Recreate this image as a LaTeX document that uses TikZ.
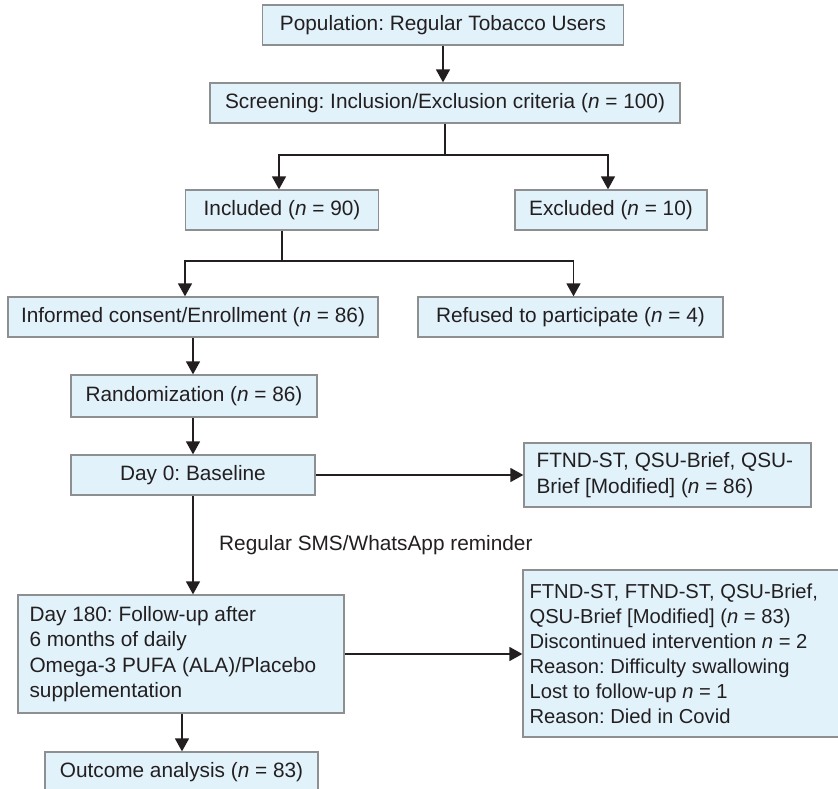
\documentclass[tikz,border=0pt]{standalone}
\usepackage{fontspec}
\setmainfont{Liberation Sans}
\usetikzlibrary{arrows.meta}
\definecolor{boxfill}{HTML}{E1F2FB}
\definecolor{boxline}{HTML}{8E8F90}
\definecolor{ink}{HTML}{231F20}
\newcommand{\nn}{\textit{n}}
\frenchspacing
\begin{document}
\begin{tikzpicture}[x=1pt,y=-1pt,
 box/.style={draw=boxline, line width=1.3pt, fill=boxfill, inner sep=0pt, font=\fontsize{20.8}{25.5}\selectfont, text=ink},
 txt/.style={font=\fontsize{20.8}{25.5}\selectfont, text=ink, inner sep=0pt, align=left},
 arr/.style={draw=ink, line width=1.6pt, -{Triangle[width=14pt,length=13pt]}},
 ln/.style={draw=ink, line width=1.6pt}]
\useasboundingbox (0,0) rectangle (838,789);
\clip (0,0) rectangle (838,789);
\fill[white] (0,0) rectangle (838,789);

\node[box, minimum width=361pt, minimum height=40pt] (pop) at (443,25) {Population: Regular Tobacco Users};
\node[box, minimum width=470pt, minimum height=40pt] (scr) at (445,103) {Screening: Inclusion/Exclusion criteria (\nn{} = 100)};
\node[box, minimum width=193pt, minimum height=40pt] (inc) at (282,210) {Included (\nn{} = 90)};
\node[box, minimum width=192pt, minimum height=40pt] (exc) at (611,210) {Excluded (\nn{} = 10)};
\node[box, minimum width=370pt, minimum height=40pt] (inf) at (193,317) {Informed consent/Enrollment (\nn{} = 86)};
\node[box, minimum width=305pt, minimum height=40pt] (ref) at (570.5,317) {Refused to participate (\nn{} = 4)};
\node[box, minimum width=246pt, minimum height=42pt] (rand) at (194,396) {Randomization (\nn{} = 86)};
\node[box, minimum width=244pt, minimum height=40pt] (d0) at (193,475) {Day 0: Baseline};
\node[box, minimum width=287pt, minimum height=64pt] (f1) at (667.5,475) {};
\node[txt, anchor=west] (f1t) at ([xshift=13pt]f1.west) {FTND-ST, QSU-Brief, QSU-\\Brief [Modified] (\nn{} = 86)};
\node[box, minimum width=326pt, minimum height=118pt] (d180) at (181,654) {};
\node[txt, anchor=west] (d180t) at ([xshift=12pt]d180.west) {Day 180: Follow-up after\\6 months of daily\\Omega-3 PUFA (ALA)/Placebo\\supplementation};
\node[box, minimum width=322pt, minimum height=167pt] (f2) at (684,653.5) {};
\node[txt, anchor=west, font=\fontsize{20.2}{25}\selectfont] (f2t) at ([xshift=7pt]f2.west) {FTND-ST, FTND-ST, QSU-Brief,\\QSU-Brief [Modified] (\nn{} = 83)\\Discontinued intervention \nn{} = 2\\Reason: Difficulty swallowing\\Lost to follow-up \nn{} = 1\\Reason: Died in Covid};
\node[box, minimum width=273pt, minimum height=40pt] (out) at (181.5,772) {Outcome analysis (\nn{} = 83)};
\node[txt, anchor=west] (rem) at (219,545) {Regular SMS/WhatsApp reminder};

\coordinate (j1) at (445,155);
\coordinate (j2) at (282,261);
\draw[arr] (pop.south) -- (pop.south |- scr.north);
\draw[ln] (scr.south) -- (j1);
\draw[arr] (j1) -| ([xshift=-3pt]inc.north);
\draw[arr] (j1) -| ([xshift=-3pt]exc.north);
\draw[ln] (inc.south) -- (j2);
\draw[arr] (j2) -| ([xshift=-8pt]inf.north);
\draw[arr] (j2) -| ([xshift=3pt]ref.north);
\draw[arr] (inf.south) -- (inf.south |- rand.north);
\draw[arr] (inf.south |- rand.south) -- (inf.south |- d0.north);
\draw[arr] (d0.east) -- (f1.west);
\draw[arr] (d0.south) -- (d0.south |- d180.north);
\draw[arr] (d180.east) -- (d180.east -| f2.west);
\draw[arr] ([xshift=1pt]d180.south) -- ([xshift=1pt]d180.south |- out.north);
\end{tikzpicture}
\end{document}
